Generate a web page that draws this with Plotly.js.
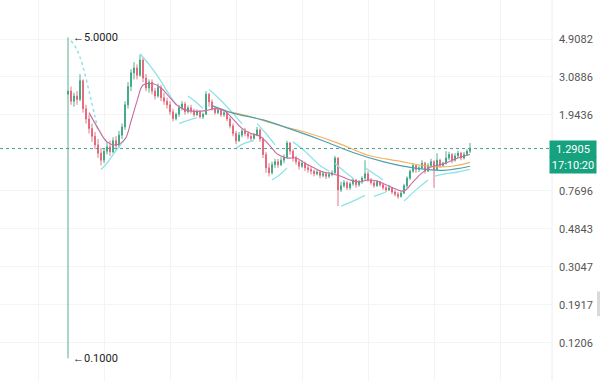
<!DOCTYPE html>
<html><head><meta charset="utf-8">
<script src="https://cdn.plot.ly/plotly-3.0.1.min.js"></script>
<style>html,body{margin:0;padding:0;background:#fff}#chart{width:600px;height:381px}</style>
</head><body><div id="chart"></div>
<script>
// Candle data (index = bar number)
const openP  = [2.50,2.60,2.30,2.45,2.35,2.95,2.10,1.85,1.65,1.50,1.35,1.22,1.12,1.25,1.32,1.24,1.42,1.34,1.52,1.68,2.20,2.75,3.25,3.45,3.15,3.80,3.05,2.70,2.90,2.60,2.45,2.72,2.40,2.30,2.20,2.02,1.86,1.96,2.12,2.22,2.02,2.12,2.04,1.95,2.02,1.90,1.96,2.50,2.28,2.10,2.00,2.06,1.95,2.00,1.85,1.70,1.55,1.42,1.52,1.60,1.55,1.50,1.46,1.52,1.62,1.45,1.20,1.02,0.96,1.06,1.10,1.06,1.12,1.16,1.38,1.25,1.15,1.10,1.04,1.08,1.02,1.00,0.98,0.95,0.97,0.93,0.95,0.92,0.94,0.96,1.15,0.78,0.82,0.85,0.80,0.84,0.88,0.83,0.86,0.90,0.95,0.88,0.85,0.82,0.86,0.83,0.80,0.78,0.80,0.76,0.74,0.72,0.75,0.82,0.90,0.98,1.05,1.00,1.02,1.08,0.98,1.05,1.10,1.00,1.12,1.05,1.08,1.15,1.20,1.12,1.18,1.22,1.15,1.20,1.25];
const highP  = [5.00,2.75,2.55,2.60,3.20,3.00,2.20,1.95,1.75,1.58,1.45,1.30,1.30,1.40,1.42,1.48,1.50,1.60,1.75,2.30,2.90,3.40,3.70,3.60,4.05,3.90,3.20,3.00,3.00,2.70,2.85,2.80,2.55,2.40,2.30,2.10,2.00,2.20,2.30,2.28,2.18,2.20,2.10,2.08,2.06,2.00,2.60,2.55,2.35,2.15,2.12,2.10,2.05,2.02,1.90,1.75,1.60,1.58,1.65,1.66,1.60,1.55,1.56,1.68,1.65,1.48,1.24,1.08,1.10,1.14,1.14,1.16,1.20,1.42,1.40,1.28,1.18,1.12,1.12,1.10,1.06,1.03,1.00,1.00,0.99,0.98,0.97,0.97,0.99,1.18,1.16,0.86,0.88,0.87,0.86,0.90,0.89,0.88,0.92,1.12,0.98,0.90,0.87,0.88,0.87,0.85,0.82,0.83,0.81,0.78,0.76,0.77,0.84,0.92,1.00,1.08,1.06,1.05,1.12,1.10,1.08,1.14,1.12,1.22,1.14,1.10,1.25,1.24,1.22,1.22,1.26,1.24,1.24,1.28,1.38];
const lowP   = [0.10,2.20,2.15,2.20,2.30,2.00,1.75,1.55,1.40,1.28,1.15,1.05,1.08,1.20,1.18,1.22,1.28,1.30,1.45,1.62,2.10,2.60,3.00,3.00,3.10,2.90,2.60,2.55,2.50,2.35,2.40,2.30,2.20,2.10,1.95,1.80,1.82,1.90,2.05,1.95,1.98,1.98,1.90,1.92,1.86,1.85,1.94,2.15,2.05,1.95,1.96,1.90,1.90,1.80,1.65,1.50,1.36,1.40,1.48,1.50,1.45,1.40,1.44,1.50,1.40,1.15,0.96,0.92,0.94,1.02,1.02,1.04,1.08,1.14,1.20,1.10,1.06,1.00,1.02,0.98,0.96,0.94,0.92,0.93,0.90,0.91,0.89,0.90,0.92,0.95,0.64,0.76,0.80,0.78,0.78,0.82,0.80,0.81,0.84,0.88,0.86,0.83,0.80,0.81,0.81,0.78,0.76,0.77,0.74,0.72,0.70,0.71,0.74,0.80,0.88,0.96,0.96,0.97,1.00,0.95,0.97,1.03,0.80,0.99,1.02,1.03,1.06,1.12,1.08,1.10,1.15,1.12,1.13,1.18,1.22];
const closeP = [2.60,2.30,2.45,2.35,2.95,2.10,1.85,1.65,1.50,1.35,1.22,1.12,1.25,1.32,1.24,1.42,1.34,1.52,1.68,2.20,2.75,3.25,3.45,3.15,3.80,3.05,2.70,2.90,2.60,2.45,2.72,2.40,2.30,2.20,2.02,1.86,1.96,2.12,2.22,2.02,2.12,2.04,1.95,2.02,1.90,1.96,2.50,2.28,2.10,2.00,2.06,1.95,2.00,1.85,1.70,1.55,1.42,1.52,1.60,1.55,1.50,1.46,1.52,1.62,1.45,1.20,1.02,0.96,1.06,1.10,1.06,1.12,1.16,1.38,1.25,1.15,1.10,1.04,1.08,1.02,1.00,0.98,0.95,0.97,0.93,0.95,0.92,0.94,0.96,1.15,0.78,0.82,0.85,0.80,0.84,0.88,0.83,0.86,0.90,0.95,0.88,0.85,0.82,0.86,0.83,0.80,0.78,0.80,0.76,0.74,0.72,0.75,0.82,0.90,0.98,1.05,1.00,1.02,1.08,0.98,1.05,1.10,1.00,1.12,1.05,1.08,1.15,1.20,1.12,1.18,1.22,1.15,1.20,1.25,1.2905];

// Short moving average
const maShortX = [7,10,13,16,19,21,23,25,28,31,34,37,40,43,46,49,52,55,58,61,64,67,70,73,76,79,82,85,88,91,94,97,100,103,106,109,112,115,118,121,124,127,130,134];
const maShortY = [2.0,1.65,1.40,1.35,1.45,1.8,2.3,2.8,2.85,2.7,2.4,2.15,2.05,2.03,2.05,2.1,2.05,1.85,1.65,1.55,1.5,1.35,1.2,1.15,1.15,1.08,1.02,0.97,0.95,0.92,0.88,0.86,0.88,0.87,0.83,0.79,0.77,0.86,0.96,1.03,1.06,1.10,1.15,1.20];
// Long moving averages
const maOrangeX = [54,60,70,80,90,100,110,120,128,134];
const maOrangeY = [2.02,1.92,1.72,1.56,1.38,1.19,1.11,1.04,1.04,1.09];
const maTealX = [48,55,65,75,85,95,105,115,125,134];
const maTealY = [2.18,1.99,1.83,1.62,1.42,1.23,1.10,1.02,0.99,1.04];
// Stop-and-reverse style segments: first (dotted) one, then the rest (null = break)
const sarDotX = [1,3,5,7,9,10];
const sarDotY = [4.8,4.3,3.5,2.6,1.9,1.6];
const sarX = [11,13,15,17,19,null,24,27,30,33,36,null,37,40,43,null,40,43,45,null,47,50,53,56,58,null,56,59,62,null,63,66,69,null,68,71,73,null,75,79,84,87,null,89,92,95,null,91,95,99,null,99,102,105,null,102,106,null,112,116,120,null,122,126,130,134];
const sarY = [1.0,1.08,1.2,1.32,1.45,null,4.1,3.6,3.1,2.6,2.2,null,1.75,1.82,1.88,null,2.45,2.25,2.1,null,2.65,2.4,2.15,1.9,1.75,null,1.30,1.38,1.42,null,1.75,1.55,1.35,null,0.88,0.95,1.02,null,1.40,1.25,1.05,0.98,null,1.08,0.98,0.90,null,0.64,0.68,0.73,null,1.02,0.95,0.88,null,0.72,0.76,null,0.68,0.78,0.88,null,0.92,0.95,0.97,1.00];

const yTicks = [4.9082,3.0886,1.9436,0.7696,0.4843,0.3047,0.1917,0.1206];
const lastPrice = 1.2905;
const lastTime = "17:10:20";
const maxPrice = 5.0000, minPrice = 0.1000;

const idx = closeP.map((_, i) => i);

const traces = [
  {type:'scatter', mode:'lines', x:sarDotX, y:sarDotY, line:{color:'#8ee3e6', width:1.5, shape:'spline', dash:'dot'}, hoverinfo:'skip'},
  {type:'scatter', mode:'lines', x:sarX, y:sarY, line:{color:'#8ee3e6', width:1.3, shape:'spline'}, connectgaps:false, hoverinfo:'skip'},
  {type:'scatter', mode:'lines', x:maOrangeX, y:maOrangeY, line:{color:'#f2b35e', width:1.2, shape:'spline'}, hoverinfo:'skip'},
  {type:'scatter', mode:'lines', x:maTealX, y:maTealY, line:{color:'#4f9fae', width:1.2, shape:'spline'}, hoverinfo:'skip'},
  {type:'scatter', mode:'lines', x:maShortX, y:maShortY, line:{color:'#c8699f', width:1.1, shape:'spline'}, hoverinfo:'skip'},
  {type:'candlestick', x:idx, open:openP, high:highP, low:lowP, close:closeP,
   increasing:{line:{color:'#2a9d74', width:0.8}, fillcolor:'#2a9d74'},
   decreasing:{line:{color:'#e0566b', width:0.8}, fillcolor:'#e0566b'},
   whiskerwidth:0, hoverinfo:'skip'}
];

const layout = {
  width:600, height:381,
  margin:{l:0, r:48, t:0, b:0},
  paper_bgcolor:'#ffffff', plot_bgcolor:'#ffffff',
  showlegend:false,
  boxgap:0.6,
  font:{family:'Roboto, "Open Sans", sans-serif', size:11, color:'#555'},
  xaxis:{type:'linear', range:[-22.67,161.33], showticklabels:false, zeroline:false,
         showgrid:true, gridcolor:'#f4f4f4', dtick:22, tick0:12, rangeslider:{visible:false}, fixedrange:true},
  yaxis:{type:'log', side:'right', range:[-1.1199,0.8974], tickmode:'array', tickvals:yTicks,
         ticktext:yTicks.map(v=>v.toFixed(4)), showgrid:true, gridcolor:'#f4f4f4', zeroline:false,
         ticks:'', ticklabelstandoff:6, tickfont:{size:11, color:'#555'}, showline:false},
  shapes:[
    {type:'line', xref:'paper', x0:0, x1:1, yref:'y', y0:lastPrice, y1:lastPrice,
     line:{color:'#4f9d93', width:1, dash:'3px,3px'}},
    {type:'line', xref:'paper', x0:1, x1:1, yref:'paper', y0:0, y1:1, line:{color:'#eeeeee', width:1}},
    {type:'rect', xref:'paper', yref:'paper', x0:1.0815, x1:1.0915, y0:0.17, y1:0.235, fillcolor:'#d9d9d9', line:{width:0}}
  ],
  annotations:[
    {xref:'x', yref:'y', x:0, y:Math.log10(maxPrice), text:'←'+maxPrice.toFixed(4), showarrow:false,
     xanchor:'left', yanchor:'middle', xshift:3, font:{size:11, color:'#222'}},
    {xref:'x', yref:'y', x:0, y:Math.log10(minPrice), text:'←'+minPrice.toFixed(4), showarrow:false,
     xanchor:'left', yanchor:'middle', xshift:3, font:{size:11, color:'#222'}},
    {xref:'paper', yref:'y', x:1, y:Math.log10(lastPrice), text:lastPrice.toFixed(4), showarrow:false,
     xanchor:'left', yanchor:'middle', xshift:-3, bgcolor:'#16a27e', width:44, height:14,
     font:{size:11, color:'#ffffff'}},
    {xref:'paper', yref:'y', x:1, y:Math.log10(lastPrice), text:lastTime, showarrow:false,
     xanchor:'left', yanchor:'middle', xshift:-3, yshift:-16, bgcolor:'#16a27e', width:44, height:14,
     font:{size:11, color:'#ffffff'}}
  ]
};

Plotly.newPlot('chart', traces, layout, {displayModeBar:false, staticPlot:true});
</script>
</body></html>
